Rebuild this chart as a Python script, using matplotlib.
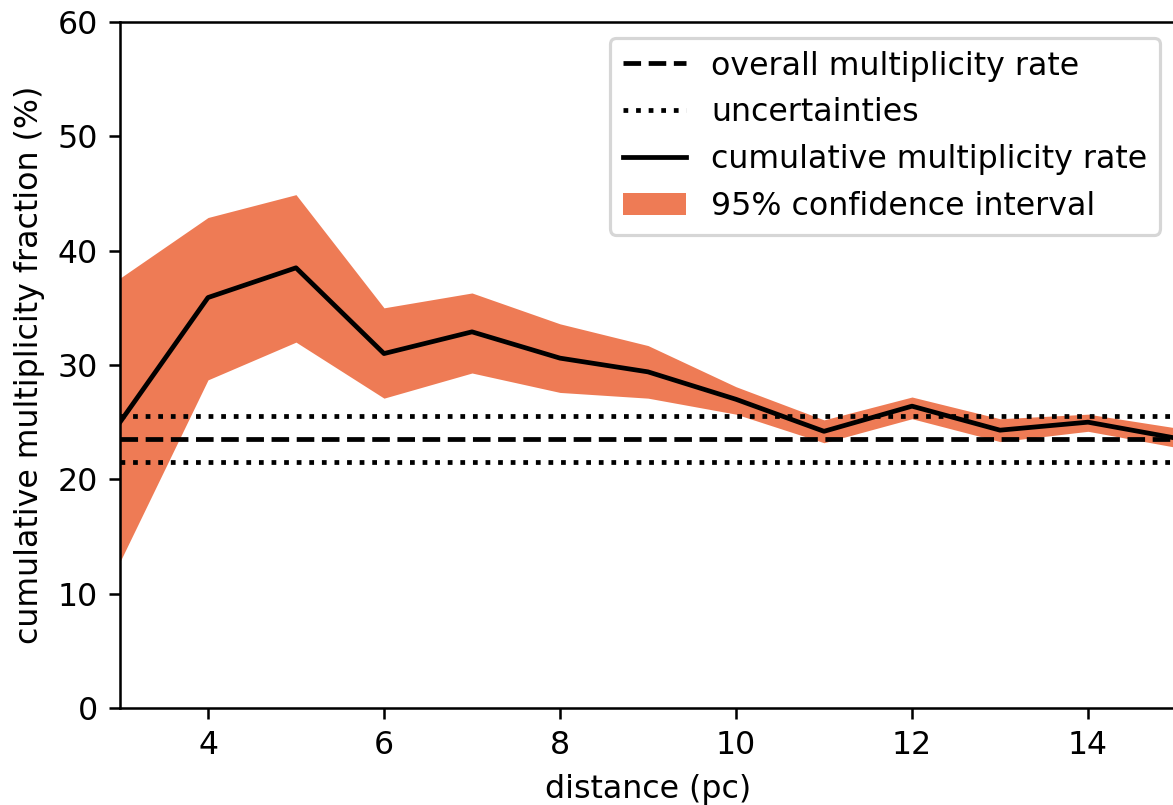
import numpy as np
import matplotlib
matplotlib.use('Agg')
import matplotlib.pyplot as plt

# values
distance = [3, 4, 5, 6, 7, 8, 9, 10, 11, 12, 13, 14, 15]
cumulative = [25.0, 35.9, 38.5, 31.0, 32.9, 30.6, 29.4, 27.0, 24.2, 26.4, 24.3, 25.0, 23.6]
ci_upper = [37.6, 42.9, 44.9, 35.0, 36.3, 33.6, 31.7, 28.1, 25.2, 27.2, 25.3, 25.7, 24.5]
ci_lower = [12.8, 28.7, 32.0, 27.1, 29.3, 27.6, 27.1, 25.7, 23.2, 25.3, 23.3, 24.2, 22.8]
overall_rate = 23.5
overall_err = 2.0

DPI = 228
fig = plt.figure(figsize=(1173 / DPI, 805 / DPI), dpi=DPI)
# axes run slightly past the right edge of the figure, as in the reference
ax = fig.add_axes([120 / 1173, 1 - 708 / 805, 1056 / 1173, 686 / 805])

ax.axhline(overall_rate, color='black', linestyle='--', lw=1.5, label='overall multiplicity rate')
ax.axhline(overall_rate + overall_err, color='black', linestyle=':', lw=1.5, label='uncertainties')
ax.axhline(overall_rate - overall_err, color='black', linestyle=':', lw=1.5)
ax.plot(distance, cumulative, color='black', lw=1.5, label='cumulative multiplicity rate')
ax.fill_between(distance, ci_lower, ci_upper, color='#ee7b55', linewidth=0, label='95% confidence interval')

ax.set_xlim(3, 15)
ax.set_ylim(0, 60)
ax.set_xlabel('distance (pc)')
ax.set_ylabel('cumulative multiplicity fraction (%)')
ax.legend(loc='upper right')

fig.savefig('out.png', dpi=DPI)
